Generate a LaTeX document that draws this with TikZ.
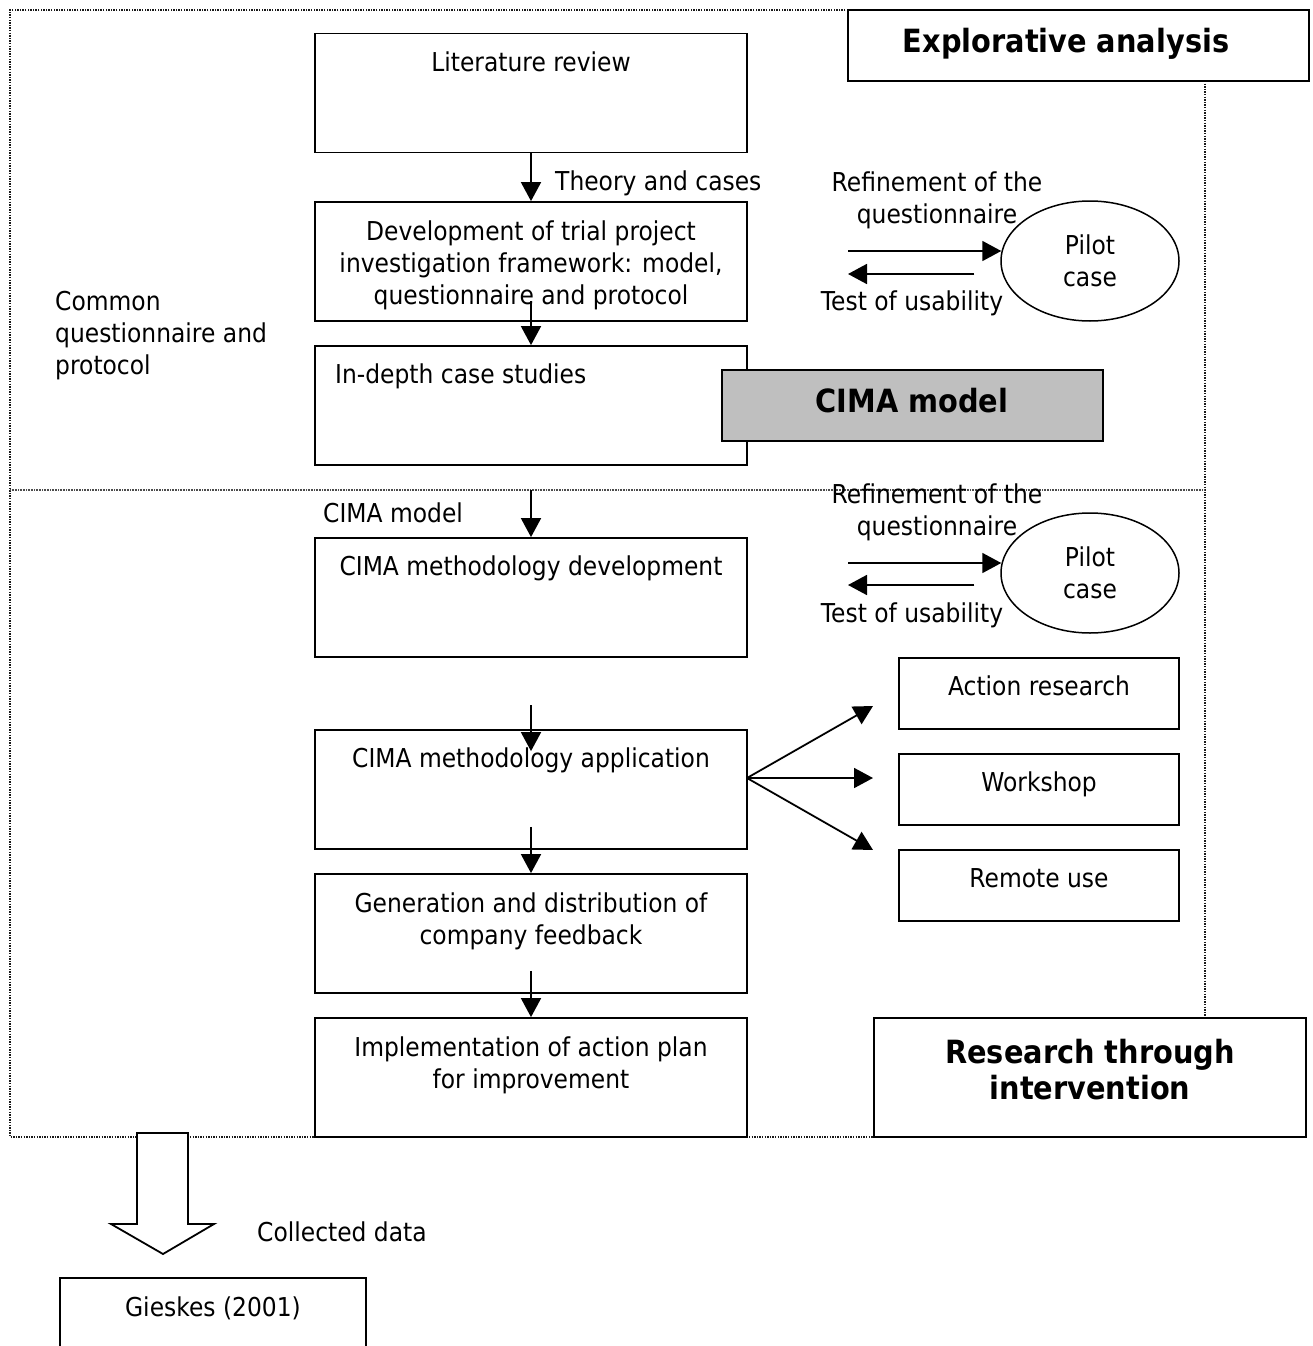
\documentclass[tikz,border=0pt]{standalone}
\usepackage{fontspec}
\setmainfont{DejaVu Sans}[FakeStretch=0.9]
\usetikzlibrary{arrows.meta,shapes.geometric,calc}

\begin{document}
\begin{tikzpicture}[x=1pt,y=-1pt,
  every node/.style={inner sep=0pt, font=\fontsize{26}{32}\selectfont},
  stepbox/.style={draw, line width=1.8pt, minimum width=432pt, minimum height=119pt},
  sidebox/.style={draw, line width=1.8pt, minimum width=280pt, minimum height=71pt},
  headbox/.style={draw, line width=1.8pt},
  heading/.style={font=\fontsize{32}{36}\selectfont\bfseries, align=center},
  frame/.style={line width=1.5pt, dash pattern=on 1.4pt off 1.2pt, black!90},
  divider/.style={line width=1.8pt, dash pattern=on 1pt off 0.6pt, black!70},
  flow/.style={line width=1.8pt, -{Triangle[length=19pt,width=20pt]}},
  pilot/.style={draw, ellipse, line width=1.5pt, minimum width=178pt, minimum height=120pt, align=center},
]
\clip (0,0) rectangle (1313,1346);

% dotted phase frames
\draw[frame] (848,10) -- (10,10) -- (10,1137) -- (874,1137);
\draw[frame] (1205,81) -- (1205,1018);
\draw[divider] (10,490) -- (1205,490);

% phase headings
\node[headbox, minimum width=461pt, minimum height=71pt] (explbox) at (1078.5,45.5) {};
\node[heading] (expl) at (1066,44) {Explorative analysis};
\node[headbox, minimum width=432pt, minimum height=119pt] (resbox) at (1090,1077.5) {};
\node[heading] (res) at (1090,1070) {Research through\\intervention};

% main process steps
\node[stepbox] (lit)  at (531,93)     {};
\node[stepbox] (dev)  at (531,261.5)  {};
\node[stepbox] (ind)  at (531,405.5)  {};
\node[stepbox] (meth) at (531,597.5)  {};
\node[stepbox] (app)  at (531,789.5)  {};
\node[stepbox] (gen)  at (531,933.5)  {};
\node[stepbox] (impl) at (531,1077.5) {};

\node[anchor=base] (t-lit) at (531,71.5) {Literature review};
\node[align=center] (t-dev) at (531,265) {Development of trial project\\investigation framework: model,\\questionnaire and protocol};
\node[anchor=base west] (t-ind) at (335,383.5) {In-depth case studies};
\node[anchor=base] (t-meth) at (531,575.5) {CIMA methodology development};
\node[anchor=base] (t-app) at (531,767.5) {CIMA methodology application};
\node[align=center] (t-gen) at (531,921) {Generation and distribution of\\company feedback};
\node[align=center] (t-impl) at (531,1065) {Implementation of action plan\\for improvement};

% CIMA model result
\node[headbox, fill=black!25, minimum width=381pt, minimum height=71pt] (cimabox) at (912.5,405.5) {};
\node[heading] (cima) at (912,401) {CIMA model};

% side labels
\node[anchor=west, align=left] (common) at (55,336) {Common\\questionnaire and\\protocol};
\node[anchor=base west] (theory) at (555,190.5) {Theory and cases};
\node[anchor=base west] (cimalbl) at (323,522.5) {CIMA model};

% pilot cases
\node[pilot] (pilot1) at (1090,261) {Pilot\\case};
\node[pilot] (pilot2) at (1090,573) {Pilot\\case};
\node[align=center] (ref1) at (937,200) {Refinement of the\\questionnaire};
\node[anchor=base] (test1) at (912,310.5) {Test of usability};
\node[align=center] (ref2) at (937,512) {Refinement of the\\questionnaire};
\node[anchor=base] (test2) at (912,622.5) {Test of usability};

\coordinate (r1) at (848,251);
\coordinate (l1) at (848,274);
\coordinate (r2) at (848,563);
\coordinate (l2) at (848,585);
\draw[flow] (r1) -- ($(pilot1.west)+(1,-10)$);
\draw[flow] ($(pilot1.west)+(-26,13)$) -- (l1);
\draw[flow] (r2) -- ($(pilot2.west)+(1,-10)$);
\draw[flow] ($(pilot2.west)+(-26,12)$) -- (l2);

% application modes
\node[sidebox] (action) at (1039,693.5) {};
\node[sidebox] (work)   at (1039,789.5) {};
\node[sidebox] (remote) at (1039,885.5) {};
\node[anchor=base] (t-action) at (1039,695.5) {Action research};
\node[anchor=base] (t-work)   at (1039,791.5) {Workshop};
\node[anchor=base] (t-remote) at (1039,887.5) {Remote use};

\coordinate (fan) at (747,778);
\coordinate (fa1) at (873,706);
\coordinate (fa2) at (873,778);
\coordinate (fa3) at (873,850);
\draw[flow] (fan) -- (fa1);
\draw[flow] (fan) -- (fa2);
\draw[flow] (fan) -- (fa3);

% flow between steps
\coordinate (sep) at (531,490);
\draw[flow] (lit.south) -- (dev.north);
\draw[flow] ($(dev.south)+(0,-21)$) -- (ind.north);
\draw[flow] (sep) -- (meth.north);
\draw[flow] ($(app.north)+(0,-24)$) -- ($(app.north)+(0,22)$);
\draw[flow] ($(app.south)+(0,-23)$) -- (gen.north);
\draw[flow] ($(gen.south)+(0,-23)$) -- (impl.north);

% collected data
\draw[line width=1.8pt, fill=white] (137,1133) -- (137,1224) -- (111,1224) -- (163,1254)
  -- (214,1224) -- (188,1224) -- (188,1133) -- cycle;
\node[anchor=base west] (collected) at (257,1241.5) {Collected data};
\node[draw, line width=1.8pt, minimum width=306pt, minimum height=90pt] (gieskes) at (213,1323) {};
\node[anchor=base] (t-gieskes) at (213,1316.5) {Gieskes (2001)};
\end{tikzpicture}
\end{document}
